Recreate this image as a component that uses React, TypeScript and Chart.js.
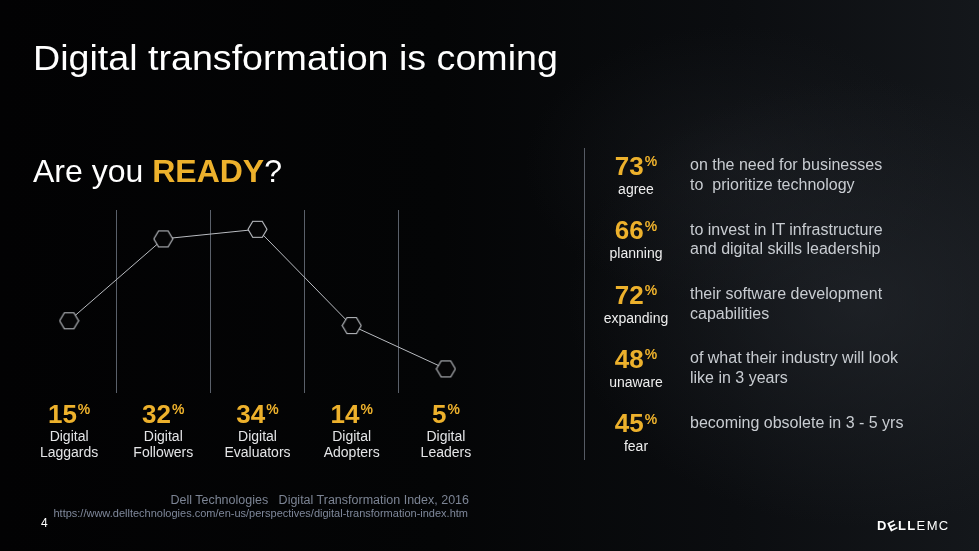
import React, { useEffect, useRef } from "react";
import { Chart, registerables } from "chart.js";

Chart.register(...registerables);

// ---- data ----
const segmentTitles = ["Digital", "Digital", "Digital", "Digital", "Digital"];
const segmentKinds = ["Laggards", "Followers", "Evaluators", "Adopters", "Leaders"];
const segmentShares = [15, 32, 34, 14, 5];

const statValues = [73, 66, 72, 48, 45];
const statVerbs = ["agree", "planning", "expanding", "unaware", "fear"];
const statLines1 = [
  "on the need for businesses",
  "to invest in IT infrastructure",
  "their software development",
  "of what their industry will look",
  "becoming obsolete in 3 - 5 yrs",
];
const statLines2 = [
  "to  prioritize technology",
  "and digital skills leadership",
  "capabilities",
  "like in 3 years",
  "",
];

const FONT = '"Liberation Sans", Arial, sans-serif';
const GOLD = "#EDB12C";

function makeHexagon(): HTMLCanvasElement {
  const c = document.createElement("canvas");
  c.width = 21;
  c.height = 19;
  const g = c.getContext("2d")!;
  g.beginPath();
  g.moveTo(1, 9.5);
  g.lineTo(5.75, 1.5);
  g.lineTo(15.25, 1.5);
  g.lineTo(20, 9.5);
  g.lineTo(15.25, 17.5);
  g.lineTo(5.75, 17.5);
  g.closePath();
  g.fillStyle = "#050506";
  g.fill();
  g.strokeStyle = "#c3c6cb";
  g.lineWidth = 1.1;
  g.stroke();
  return c;
}

const segmentLabelPlugin = {
  id: "segmentLabels",
  afterDraw(chart: any) {
    const ctx = chart.ctx as CanvasRenderingContext2D;
    const xs = chart.scales.x;
    const b = chart.chartArea.bottom;
    ctx.save();
    ctx.textBaseline = "alphabetic";
    segmentShares.forEach((v, i) => {
      const x = xs.getPixelForValue(i);
      const num = String(v);
      ctx.font = `bold 26px ${FONT}`;
      const nw = ctx.measureText(num).width;
      ctx.font = `bold 14px ${FONT}`;
      const pw = ctx.measureText("%").width;
      const start = x - (nw + pw + 1) / 2;
      ctx.fillStyle = GOLD;
      ctx.textAlign = "left";
      ctx.font = `bold 26px ${FONT}`;
      ctx.fillText(num, start, b + 30);
      ctx.font = `bold 14px ${FONT}`;
      ctx.fillText("%", start + nw + 1, b + 30 - 8.6);
      ctx.font = `14px ${FONT}`;
      ctx.fillStyle = "#e4e5e7";
      ctx.textAlign = "center";
      ctx.fillText(segmentTitles[i], x, b + 48);
      ctx.fillText(segmentKinds[i], x, b + 64);
    });
    ctx.restore();
  },
};

function abs(baseline: number, size: number): React.CSSProperties {
  return {
    position: "absolute",
    top: baseline - 0.8465 * size,
    fontSize: size,
    lineHeight: `${size}px`,
    whiteSpace: "pre",
  };
}

export default function App() {
  const ref = useRef<HTMLCanvasElement | null>(null);

  useEffect(() => {
    if (!ref.current) return;
    const hex = makeHexagon();
    const chart = new Chart(ref.current, {
      type: "line",
      data: {
        labels: segmentTitles.map((t, i) => `${t} ${segmentKinds[i]}`),
        datasets: [
          {
            data: segmentShares,
            borderColor: "#b9bcc1",
            borderWidth: 1,
            tension: 0,
            fill: false,
            pointStyle: hex as any,
            pointRadius: 10,
            pointHoverRadius: 10,
            clip: false as any,
          },
        ],
      },
      options: {
        responsive: false,
        animation: false,
        events: [],
        layout: { padding: { left: 22, right: 486, top: 210, bottom: 158 } },
        plugins: { legend: { display: false }, tooltip: { enabled: false } },
        scales: {
          x: {
            type: "category",
            offset: true,
            display: true,
            grid: {
              offset: true,
              drawTicks: false,
              lineWidth: 1,
              color: (c: any) =>
                c.type !== "tick" || c.index === 0 ? "rgba(0,0,0,0)" : "#5a606a",
            },
            ticks: { display: false },
            border: { display: false },
          },
          y: { display: false, min: 0, max: 38 },
        },
      },
      plugins: [segmentLabelPlugin],
    });
    return () => chart.destroy();
  }, []);

  return (
    <div
      style={{
        position: "fixed",
        left: 0,
        top: 0,
        width: 979,
        height: 551,
        overflow: "hidden",
        fontFamily: FONT,
        color: "#fff",
        background:
          "radial-gradient(ellipse 420px 320px at 88% 55%, rgba(40,44,50,0.55), rgba(0,0,0,0) 70%), radial-gradient(ellipse 300px 200px at 75% 30%, rgba(30,33,38,0.45), rgba(0,0,0,0) 70%), linear-gradient(90deg, #020203 0%, #040506 45%, #0b0d10 75%, #14171b 100%)",
      }}
    >
      <canvas ref={ref} width={979} height={551} style={{ position: "absolute", left: 0, top: 0 }} />

      <div
        style={{
          ...abs(70, 35),
          left: 33,
          color: "#fff",
          transform: "scaleX(1.075)",
          transformOrigin: "0 0",
        }}
      >
        Digital transformation is coming
      </div>
      <div style={{ ...abs(182, 32), left: 33, color: "#fff" }}>
        Are you <span style={{ color: GOLD, fontWeight: "bold" }}>READY</span>?
      </div>

      <div
        style={{
          position: "absolute",
          left: 584,
          top: 148,
          width: 1,
          height: 312,
          background: "#565b64",
        }}
      />

      {statValues.map((v, i) => {
        const base = 175 + i * 64.3;
        return (
          <React.Fragment key={i}>
            <div style={{ ...abs(base, 26), left: 576, width: 120, textAlign: "center", fontWeight: "bold", color: GOLD }}>
              {v}
              <span style={{ fontSize: 14, position: "relative", top: -8.6, marginLeft: 1 }}>%</span>
            </div>
            <div style={{ ...abs(base + 19, 14), left: 576, width: 120, textAlign: "center", color: "#eeeeee" }}>
              {statVerbs[i]}
            </div>
            <div style={{ ...abs(base - 4, 16), left: 690, color: "#c8ccd1" }}>{statLines1[i]}</div>
            {statLines2[i] ? (
              <div style={{ ...abs(base + 15.5, 16), left: 690, color: "#c8ccd1" }}>{statLines2[i]}</div>
            ) : null}
          </React.Fragment>
        );
      })}

      <div style={{ ...abs(505, 12.5), right: 979 - 469, color: "#7c8494", textAlign: "right" }}>
        {"Dell Technologies   Digital Transformation Index, 2016"}
      </div>
      <div style={{ ...abs(517, 11), right: 979 - 468, color: "#7f889b", textAlign: "right" }}>
        https://www.delltechnologies.com/en-us/perspectives/digital-transformation-index.htm
      </div>
      <div style={{ ...abs(527, 12), left: 41, color: "#fff" }}>4</div>

      <div style={{ ...abs(530, 13), left: 877, color: "#fff", letterSpacing: 1.4 }}>
        <span style={{ fontWeight: "bold" }}>
          D<span style={{ display: "inline-block", transform: "rotate(-25deg)" }}>E</span>LL
        </span>
        <span>EMC</span>
      </div>
    </div>
  );
}
